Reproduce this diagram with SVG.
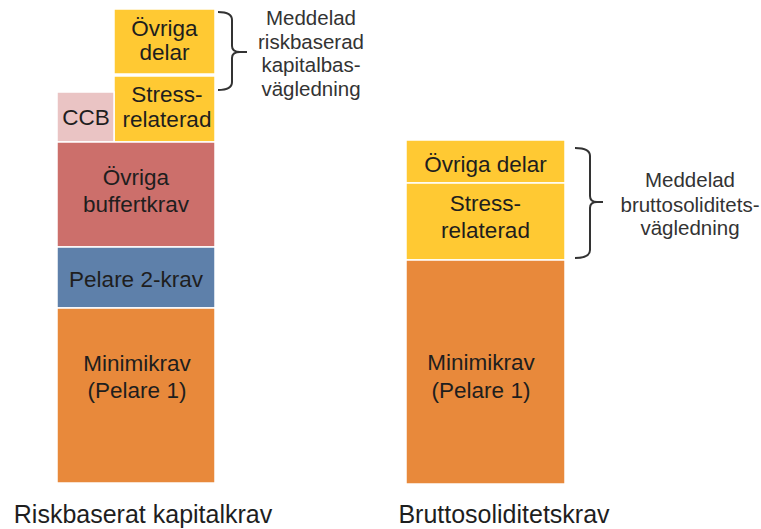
<svg xmlns="http://www.w3.org/2000/svg" width="761" height="529" viewBox="0 0 761 529">
<style>
.b{stroke:#fff;stroke-width:1.5}
.y{fill:#FFC933}
.o{fill:#E8893B}
.r{fill:#CC6F6B}
.bl{fill:#5E80AA}
.p{fill:#EAC4C4}
text{font-family:"Liberation Sans",Arial,sans-serif;fill:#1e1e1e;text-anchor:middle}
.t{font-size:22.5px}
.s{font-size:20.5px;fill:#333}
.lab{font-size:25px}
.br{fill:none;stroke:#333;stroke-width:2}
</style>
<rect width="761" height="529" fill="#fff"/>
<g id="left-ovriga-delar"><rect class="b y" x="114" y="9" width="101" height="65"/><text class="t" x="164.5" y="36">Övriga</text><text class="t" x="164.5" y="60">delar</text></g>
<g id="left-stress"><rect class="b y" x="114" y="76" width="101" height="66"/><text class="t" x="167" y="102">Stress-</text><text class="t" x="167" y="127">relaterad</text></g>
<g id="ccb"><rect class="b p" x="57" y="92" width="57" height="50"/><text class="t" x="86" y="125">CCB</text></g>
<g id="ovriga-buffert"><rect class="b r" x="57" y="142" width="158" height="105"/><text class="t" x="136" y="185">Övriga</text><text class="t" x="136" y="212">buffertkrav</text></g>
<g id="pelare2"><rect class="b bl" x="57" y="247" width="158" height="61"/><text class="t" x="136" y="287">Pelare 2-krav</text></g>
<g id="left-minimi"><rect class="b o" x="57" y="308" width="158" height="175"/><text class="t" x="137" y="371">Minimikrav</text><text class="t" x="137" y="398">(Pelare 1)</text></g>
<g id="right-ovriga-delar"><rect class="b y" x="406" y="140" width="159" height="43"/><text class="t" x="485.5" y="172">Övriga delar</text></g>
<g id="right-stress"><rect class="b y" x="406" y="183" width="159" height="77"/><text class="t" x="485.5" y="211">Stress-</text><text class="t" x="485.5" y="238">relaterad</text></g>
<g id="right-minimi"><rect class="b o" x="406" y="260" width="159" height="224"/><text class="t" x="481" y="370">Minimikrav</text><text class="t" x="481" y="398">(Pelare 1)</text></g>
<g id="connectors">
<path class="br" d="M218,12 Q232,12 232,20 L232,46 Q232,52 240,52 L247,52 M240,52 Q232,52 232,58 L232,82 Q232,90 218,90"/>
<path class="br" d="M575,148 Q590,148 590,156 L590,196 Q590,202 597,202 L603,202 M597,202 Q590,202 590,208 L590,250 Q590,258 575,258"/>
</g>
<g id="note-left"><text class="s" x="311" y="25">Meddelad</text><text class="s" x="311" y="48.5">riskbaserad</text><text class="s" x="311" y="72">kapitalbas-</text><text class="s" x="311" y="95.5">vägledning</text></g>
<g id="note-right"><text class="s" x="690" y="187">Meddelad</text><text class="s" x="690" y="212">bruttosoliditets-</text><text class="s" x="690" y="235">vägledning</text></g>
<g id="label-left"><text class="lab" x="143" y="523">Riskbaserat kapitalkrav</text></g>
<g id="label-right"><text class="lab" x="504" y="523">Bruttosoliditetskrav</text></g>
</svg>
